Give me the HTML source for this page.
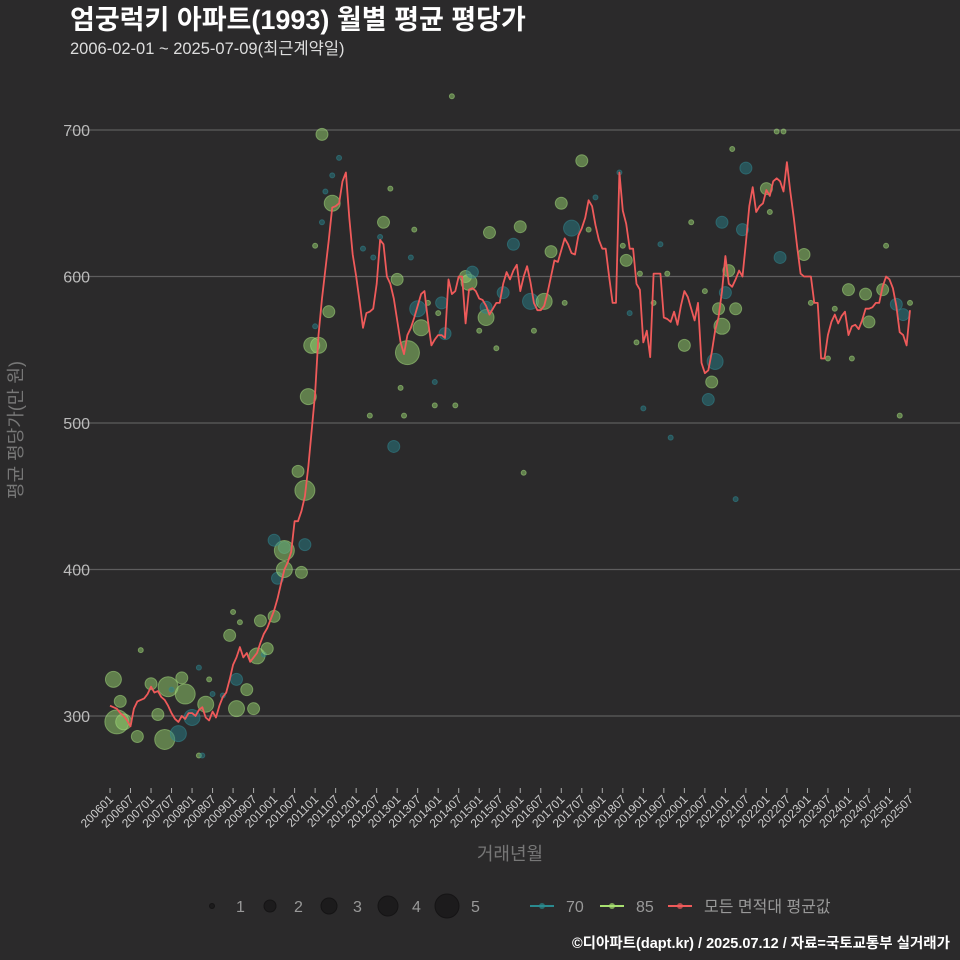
<!DOCTYPE html>
<html><head><meta charset="utf-8">
<style>
html,body{margin:0;padding:0;background:#2b2a2b;}
svg{display:block;font-family:"Liberation Sans","Noto Sans CJK KR",sans-serif;}
</style></head>
<body>
<svg id="chart" width="960" height="960" viewBox="0 0 960 960" xmlns="http://www.w3.org/2000/svg">
<rect x="0" y="0" width="960" height="960" fill="#2b2a2b"/>
<text x="70" y="29" fill="#ffffff" font-size="27" font-weight="bold">엄궁럭키 아파트(1993) 월별 평균 평당가</text>
<text x="70" y="54" fill="#dddddd" font-size="16.5">2006-02-01 ~ 2025-07-09(최근계약일)</text>
<g id="grid"></g>
<g id="bubbles"></g>
<g id="line"></g>
<g id="xaxis"></g>
<text transform="translate(22,430) rotate(-90)" text-anchor="middle" fill="#777777" font-size="18">평균 평당가(만 원)</text>
<text x="510" y="860" text-anchor="middle" fill="#777777" font-size="18">거래년월</text>
<g id="legend"></g>
<text x="950" y="948" text-anchor="end" fill="#ffffff" font-size="14.5" font-weight="bold">©디아파트(dapt.kr) / 2025.07.12 / 자료=국토교통부 실거래가</text>
</svg>
<script>
const yTicks = [300, 400, 500, 600, 700];
const startYear = 2006;
const avgValues = [
307,306,305,302,300,297,293,305,310,311,312,315,
320,316,317,313,311,307,302,298,296,300,298,302,
302,300,304,306,299,297,303,299,307,313,316,325,
335,340,347,340,343,337,340,343,350,356,360,366,
372,380,390,400,405,412,433,433,440,450,470,495,
520,560,585,605,625,647,648,650,665,671,640,615,
600,583,565,575,576,578,595,625,622,600,595,585,
570,555,547,560,565,572,580,588,590,570,553,557,
560,560,558,598,588,590,600,600,568,591,592,590,
585,584,580,574,578,582,582,595,603,598,604,608,
590,600,607,596,582,577,577,580,589,600,611,610,
618,626,622,616,615,628,633,640,652,648,635,625,
619,619,600,582,582,671,645,636,619,619,595,591,
555,563,545,602,602,602,572,571,569,576,567,580,
590,586,578,570,582,541,534,536,548,563,572,590,
614,595,593,598,604,600,623,648,661,644,648,650,
659,655,665,667,665,658,678,658,640,620,602,600,
600,600,582,582,544,544,560,569,574,568,573,576,
560,566,567,564,570,578,578,579,582,582,593,600,
598,592,580,562,560,553,577];
const bubMonth = [1,3,2,4,8,9,12,14,16,17,18,21,22,20,24,26,26,27,29,28,30,33,35,36,38,37,40,37,42,43,45,44,46,48,49,51,51,51,48,55,57,56,57,58,59,61,64,65,62,67,65,63,62,60,60,82,80,89,79,74,77,88,84,90,91,87,93,96,97,98,104,105,106,110,110,111,118,120,115,123,127,132,135,138,129,95,85,95,101,76,86,83,100,121,124,113,108,133,140,142,182,186,192,179,185,193,196,203,170,161,151,149,150,155,163,159,152,154,168,174,181,180,178,183,179,177,176,175,156,164,216,221,226,222,230,232,212,210,217,205,227,234,231,195,197,183];
const bubValue = [325,310,296,296,286,345,322,301,284,320,318,326,315,288,299,333,273,273,325,308,315,314,355,371,364,325,318,305,305,341,342,365,346,368,394,415,413,400,420,467,454,398,417,518,553,553,576,650,697,681,669,658,637,621,566,660,637,632,627,619,613,613,598,578,565,548,582,575,582,561,600,596,603,572,579,630,622,634,589,583,583,650,633,679,617,528,524,512,512,505,505,484,723,466,563,551,563,582,632,654,687,674,660,637,632,644,613,615,637,622,611,671,621,602,602,582,575,555,553,590,604,589,578,578,566,542,528,516,510,490,591,588,591,569,581,574,578,544,544,582,621,582,505,699,699,448];
const bubCount = [3,2,5,3,2,1,2,2,4,4,1,2,4,3,3,1,1,1,1,3,1,1,2,1,1,2,2,3,2,3,1,2,2,2,2,2,4,3,2,2,4,2,2,3,3,3,2,3,2,1,1,1,1,1,1,1,2,1,1,1,1,1,2,3,3,5,1,1,2,2,2,3,2,3,2,2,2,2,2,3,3,2,3,2,2,1,1,1,1,1,1,2,1,1,1,1,1,1,1,1,1,2,2,2,2,1,2,2,1,1,2,1,1,1,1,1,1,1,2,1,2,2,2,2,3,3,2,2,1,1,2,2,2,2,2,2,1,1,1,1,1,1,1,1,1,1];
const bubType = ['g','g','g','g','g','g','g','g','g','g','b','g','g','b','b','b','g','b','g','g','b','b','g','g','g','b','g','g','g','g','b','g','g','g','b','b','g','g','b','g','g','g','b','g','g','g','g','g','g','b','b','b','b','g','b','g','g','g','b','b','b','b','g','b','g','g','g','g','b','b','g','g','b','g','b','g','b','g','b','b','g','g','b','g','g','b','g','g','g','g','g','b','g','g','g','g','g','g','g','b','g','b','g','b','b','g','b','g','g','b','g','b','g','g','g','g','b','g','g','g','g','b','g','g','g','b','g','b','b','b','g','g','g','g','b','b','g','g','g','g','g','g','g','g','g','b'];
const legendSizes = [1,2,3,4,5];

const NS = 'http://www.w3.org/2000/svg';
const X0 = 110, X1 = 910, NMONTH = 234;
function xScale(i){ return X0 + i*(X1-X0)/NMONTH; }
function yScale(v){ return 716 - (v-300)*(716-130)/400; }
const radius = [0,2.5,6,8,10,12];
function mk(tag, attrs, parent){
  const el = document.createElementNS(NS, tag);
  for (const k in attrs) el.setAttribute(k, attrs[k]);
  parent.appendChild(el);
  return el;
}
const grid = document.getElementById('grid');
yTicks.forEach(t=>{
  const l = mk('line',{x1:70,x2:960,y1:yScale(t),y2:yScale(t),stroke:'#5e5d5e','stroke-width':1.2},grid);
  
  
  const tx = mk('text',{x:90,y:yScale(t)+6,'text-anchor':'end',fill:'#bbbbbb','font-size':16},grid);
  tx.textContent = t;
  
  
});
const bub = document.getElementById('bubbles');
for (let i=0;i<bubMonth.length;i++){
  const g = bubType[i]==='g';
  const c = mk('circle',{cx:xScale(bubMonth[i]),cy:yScale(bubValue[i]),r:radius[bubCount[i]],
    fill: g ? 'rgba(150,210,110,0.5)' : 'rgba(40,125,135,0.5)',
    stroke: g ? 'rgba(170,225,130,0.5)' : 'rgba(50,140,150,0.5)','stroke-width':1},bub);
  
  
}
const lineG = document.getElementById('line');
const pts = avgValues.map((v,i)=>xScale(i).toFixed(1)+','+yScale(v).toFixed(1)).join(' ');
const pl = mk('polyline',{points:pts,fill:'none',stroke:'#ef5a5a','stroke-width':1.8,'stroke-linejoin':'round'},lineG);


const xa = document.getElementById('xaxis');
for (let i=0;i<=NMONTH;i+=6){
  const yr = startYear + Math.floor(i/12), mo = (i%12)+1;
  const lab = ''+yr+(mo<10?'0':'')+mo;
  const x = xScale(i);
  const tk = mk('line',{x1:x,x2:x,y1:788,y2:793,stroke:'#aaaaaa','stroke-width':1},xa);
  
  
  const tx = mk('text',{x:x+4,y:800,'text-anchor':'end',fill:'#cccccc','font-size':12,transform:'rotate(-45 '+(x+4)+' 800)'},xa);
  tx.textContent = lab;
  
  
}
const lg = document.getElementById('legend');
const lgX = [212,270,329,388,447];
legendSizes.forEach((s,i)=>{
  const c = mk('circle',{cx:lgX[i],cy:906,r:radius[s],fill:'#1c1b1c',stroke:'#151415'},lg);
  
  
  const t = mk('text',{x:lgX[i]+24,y:912,fill:'#999999','font-size':16},lg);
  t.textContent = s;
  
  
});
const lineLeg = [[530,'#2a8a8f','70'],[600,'#a8e070','85'],[668,'#ef5a5a','모든 면적대 평균값']];
lineLeg.forEach(d=>{
  const l = mk('line',{x1:d[0],x2:d[0]+24,y1:906,y2:906,stroke:d[1],'stroke-width':2},lg);
  
  
  const c = mk('circle',{cx:d[0]+12,cy:906,r:3,fill:d[1],opacity:0.7},lg);
  
  
  const t = mk('text',{x:d[0]+36,y:912,fill:'#999999','font-size':16},lg);
  t.textContent = d[2];
  
  
});
</script>
</body></html>
